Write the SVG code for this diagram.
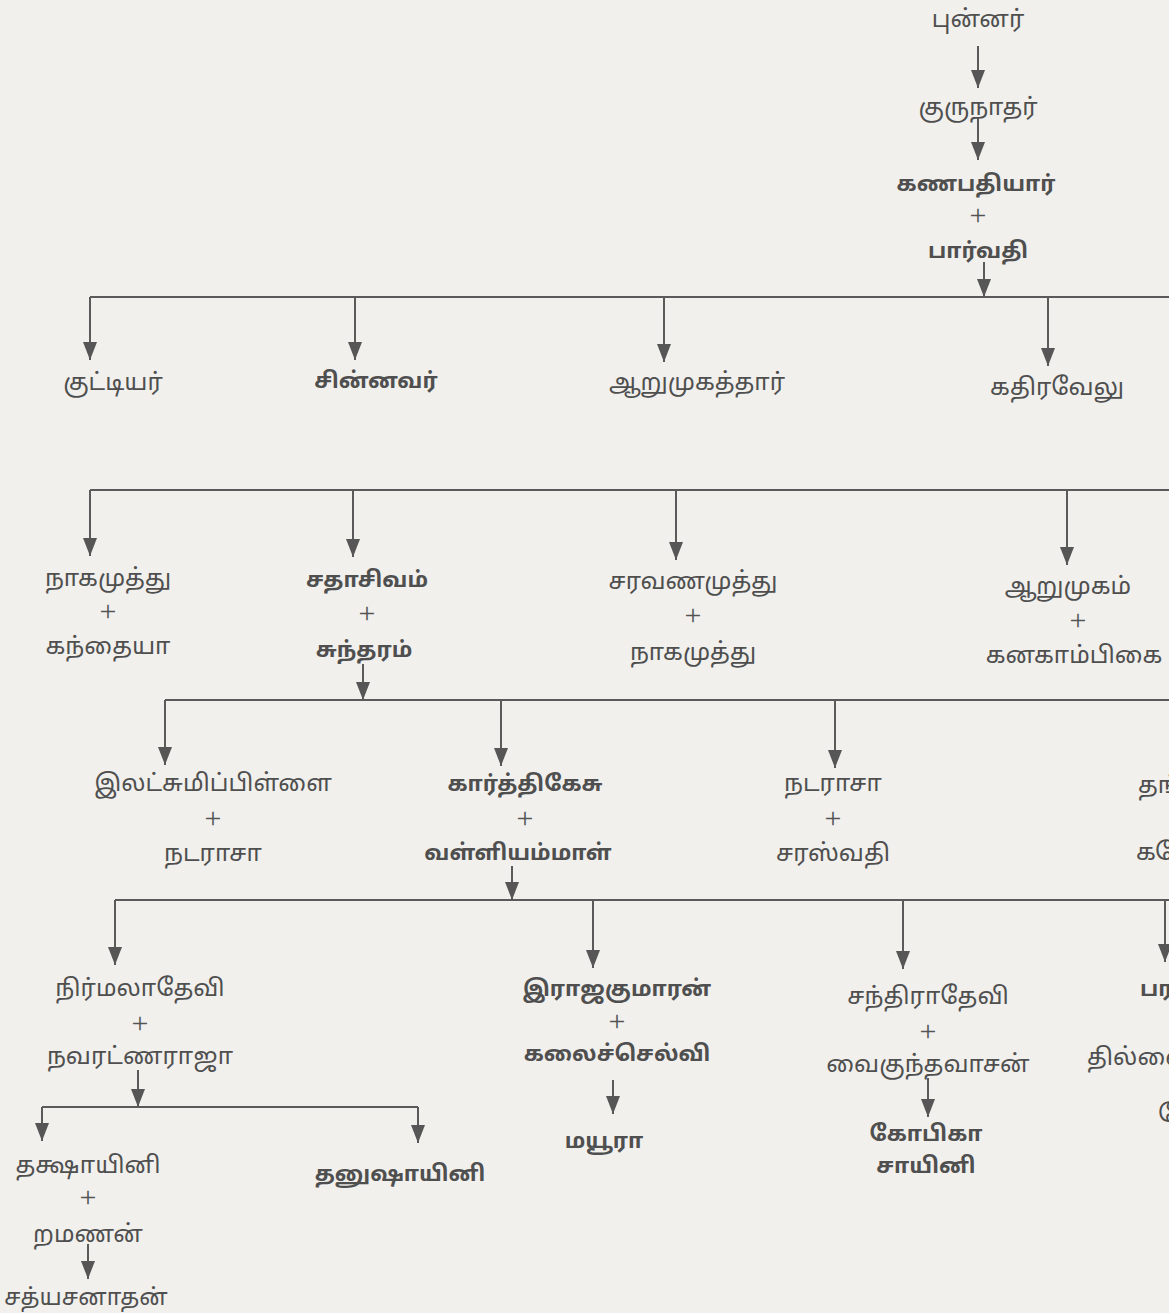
<svg xmlns="http://www.w3.org/2000/svg" width="1169" height="1313" viewBox="0 0 1169 1313">
<defs>
<marker id="ah" markerUnits="userSpaceOnUse" markerWidth="18" markerHeight="14" refX="18" refY="7" orient="auto">
<path d="M0,0 L18,7 L0,14 z" fill="#565656"/>
</marker>
<style>
text{font-family:"Noto Sans Tamil","Lohit Tamil","Latha","Noto Sans","DejaVu Sans",sans-serif;font-size:24px;fill:#4f4f4f;text-anchor:middle}
.b{font-weight:bold;font-size:22px}
.p{font-family:"Liberation Serif",serif;font-size:30px;fill:#555}
.l{text-anchor:start}
.c line,.c path{stroke:#5a5a5a;stroke-width:2;fill:none}
.c .a{marker-end:url(#ah)}
</style>
</defs>
<rect width="1169" height="1313" fill="#f1f0ed"/>
<g class="c" id="connectors">
<line class="a" x1="978" y1="46" x2="978" y2="88"/>
<line class="a" x1="978" y1="118" x2="978" y2="160"/>
<line class="a" x1="984" y1="262" x2="984" y2="297"/>
<line x1="90" y1="297" x2="1169" y2="297"/>
<line class="a" x1="90" y1="297" x2="90" y2="360"/>
<line class="a" x1="355" y1="297" x2="355" y2="360"/>
<line class="a" x1="664" y1="297" x2="664" y2="362"/>
<line class="a" x1="1048" y1="297" x2="1048" y2="366"/>
<line x1="90" y1="490" x2="1169" y2="490"/>
<line class="a" x1="90" y1="490" x2="90" y2="556"/>
<line class="a" x1="353" y1="490" x2="353" y2="557"/>
<line class="a" x1="676" y1="490" x2="676" y2="560"/>
<line class="a" x1="1067" y1="490" x2="1067" y2="565"/>
<line class="a" x1="363" y1="664" x2="363" y2="700"/>
<line x1="165" y1="700" x2="1169" y2="700"/>
<line class="a" x1="165" y1="700" x2="165" y2="765"/>
<line class="a" x1="501" y1="700" x2="501" y2="766"/>
<line class="a" x1="835" y1="700" x2="835" y2="768"/>
<line class="a" x1="512" y1="866" x2="512" y2="900"/>
<line x1="115" y1="900" x2="1169" y2="900"/>
<line class="a" x1="115" y1="900" x2="115" y2="965"/>
<line class="a" x1="593" y1="900" x2="593" y2="968"/>
<line class="a" x1="903" y1="900" x2="903" y2="969"/>
<line class="a" x1="1165" y1="900" x2="1165" y2="962"/>
<line class="a" x1="138" y1="1070" x2="138" y2="1107"/>
<line x1="42" y1="1107" x2="418" y2="1107"/>
<line class="a" x1="42" y1="1107" x2="42" y2="1141"/>
<line class="a" x1="418" y1="1107" x2="418" y2="1143"/>
<line class="a" x1="613" y1="1080" x2="613" y2="1114"/>
<line class="a" x1="928" y1="1078" x2="928" y2="1117"/>
<line class="a" x1="88" y1="1244" x2="88" y2="1279"/>
</g>
<g id="n-punnar"><text x="978" y="27">புன்னர்</text></g>
<g id="n-gurunathar"><text x="978" y="115">குருநாதர்</text></g>
<g id="n-ganapathiyar"><text class="b" x="976" y="191">கணபதியார்</text><text class="p" x="978" y="225">+</text><text class="b" x="978" y="258">பார்வதி</text></g>
<g id="n-kuttiyar"><text x="113" y="390">குட்டியர்</text></g>
<g id="n-chinnavar"><text class="b" x="376" y="388">சின்னவர்</text></g>
<g id="n-arumugathar"><text x="697" y="390">ஆறுமுகத்தார்</text></g>
<g id="n-kathiravelu"><text x="1057" y="395">கதிரவேலு</text></g>
<g id="n-nagamuthu"><text x="108" y="586">நாகமுத்து</text><text class="p" x="108" y="621">+</text><text x="108" y="654">கந்தையா</text></g>
<g id="n-sathasivam"><text class="b" x="367" y="587">சதாசிவம்</text><text class="p" x="367" y="623">+</text><text class="b" x="364" y="657">சுந்தரம்</text></g>
<g id="n-saravanamuthu"><text x="693" y="589">சரவணமுத்து</text><text class="p" x="693" y="625">+</text><text x="693" y="660">நாகமுத்து</text></g>
<g id="n-arumugam"><text x="1068" y="594">ஆறுமுகம்</text><text class="p" x="1078" y="630">+</text><text x="1074" y="663">கனகாம்பிகை</text></g>
<g id="n-ilatchumi"><text x="213" y="791">இலட்சுமிப்பிள்ளை</text><text class="p" x="213" y="828">+</text><text x="213" y="861">நடராசா</text></g>
<g id="n-karthikesu"><text class="b" x="525" y="791">கார்த்திகேசு</text><text class="p" x="525" y="828">+</text><text class="b" x="518" y="860">வள்ளியம்மாள்</text></g>
<g id="n-nadarasa"><text x="833" y="791">நடராசா</text><text class="p" x="833" y="828">+</text><text x="833" y="861">சரஸ்வதி</text></g>
<g id="n-thang"><text class="l" x="1138" y="793">தங்</text><text class="l" x="1136" y="860">கணே</text></g>
<g id="n-nirmala"><text x="140" y="996">நிர்மலாதேவி</text><text class="p" x="140" y="1033">+</text><text x="140" y="1064">நவரட்ணராஜா</text></g>
<g id="n-rajakumaran"><text class="b" x="617" y="996">இராஜகுமாரன்</text><text class="p" x="617" y="1031">+</text><text class="b" x="617" y="1061">கலைச்செல்வி</text></g>
<g id="n-mayura"><text class="b" x="604" y="1148">மயூரா</text></g>
<g id="n-chandra"><text x="928" y="1004">சந்திராதேவி</text><text class="p" x="928" y="1041">+</text><text x="928" y="1072">வைகுந்தவாசன்</text></g>
<g id="n-gopika"><text class="b" x="926" y="1141">கோபிகா</text><text class="b" x="926" y="1173">சாயினி</text></g>
<g id="n-para"><text class="l b" x="1140" y="996">பர</text><text class="l" x="1087" y="1065">தில்லை</text><text class="l" x="1158" y="1122">கோ</text></g>
<g id="n-thakshayini"><text x="88" y="1173">தக்ஷாயினி</text><text class="p" x="88" y="1207">+</text><text x="88" y="1242">றமணன்</text></g>
<g id="n-thanushayini"><text class="b" x="400" y="1181">தனுஷாயினி</text></g>
<g id="n-sathyasanathan"><text x="86" y="1305" style="font-size:23px">சத்யசனாதன்</text></g>
</svg>
